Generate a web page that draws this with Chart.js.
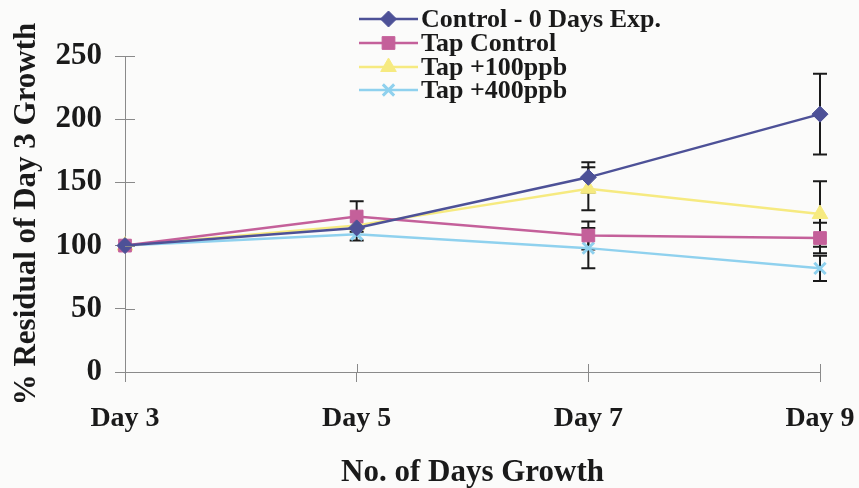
<!DOCTYPE html>
<html>
<head>
<meta charset="utf-8">
<script src="https://cdn.jsdelivr.net/npm/chart.js@4.4.1/dist/chart.umd.min.js"></script>
<style>
  html, body { margin: 0; padding: 0; background: #fbfbfa; }
  #wrap { width: 859px; height: 488px; position: relative; }
</style>
</head>
<body>
<div id="wrap"><canvas id="c" width="859" height="488"></canvas></div>
<script>
// Growth relative to day 3, by treatment
const days = ['Day 3', 'Day 5', 'Day 7', 'Day 9'];
const seriesNames = ['Control - 0 Days Exp.', 'Tap Control', 'Tap +100ppb', 'Tap +400ppb'];
const control0  = [100, 114, 154, 204];
const tapControl = [100, 123, 108, 106];
const tap100    = [100, 116, 145, 125];
const tap400    = [100, 109, 98, 82];
// standard error (+/-) per point
const errControl0 = [0, 0, 12, 32];
const errTapControl = [0, 12, 11, 12];
const errTap100 = [0, 0, 17, 26];
const errTap400 = [0, 5, 16, 10];
const yTicks = [0, 50, 100, 150, 200, 250];

const serif = "'Liberation Serif', 'Times New Roman', serif";
const colors = ['#4d5197', '#c4609a', '#f6ea80', '#8fd1ee'];
const pointStyles = ['rectRot', 'rect', 'triangle', 'crossRot'];
const pointRadii = [8, 9, 9, 8];
const values = [control0, tapControl, tap100, tap400];
const errors = [errControl0, errTapControl, errTap100, errTap400];

const datasets = values.map((v, i) => ({
  label: seriesNames[i],
  data: v,
  errors: errors[i],
  borderColor: colors[i],
  backgroundColor: colors[i],
  pointBackgroundColor: colors[i],
  pointBorderColor: colors[i],
  pointStyle: pointStyles[i],
  pointRadius: pointRadii[i],
  pointBorderWidth: i === 3 ? 3 : 1,
  borderWidth: 2.5,
  tension: 0
}));

// black error bars with caps, drawn through the scales
const errorBars = {
  id: 'errorBars',
  beforeDatasetsDraw(chart) {
    const { ctx, scales: { x, y } } = chart;
    ctx.save();
    ctx.strokeStyle = '#1a1a1a';
    ctx.lineWidth = 2;
    chart.data.datasets.forEach(ds => {
      ds.data.forEach((v, j) => {
        const e = ds.errors[j];
        if (!e) return;
        const px = x.getPixelForValue(j);
        const top = y.getPixelForValue(v + e);
        const bot = y.getPixelForValue(v - e);
        ctx.beginPath();
        ctx.moveTo(px, top); ctx.lineTo(px, bot);
        ctx.moveTo(px - 7, top); ctx.lineTo(px + 7, top);
        ctx.moveTo(px - 7, bot); ctx.lineTo(px + 7, bot);
        ctx.stroke();
      });
    });
    ctx.restore();
  }
};

// inner halves of the tick marks so they cross the axes
const crossTicks = {
  id: 'crossTicks',
  afterDraw(chart) {
    const { ctx, scales: { x, y } } = chart;
    ctx.save();
    ctx.strokeStyle = '#8a8a8a';
    ctx.lineWidth = 1;
    ctx.beginPath();
    y.ticks.forEach(t => {
      const py = Math.round(y.getPixelForValue(t.value)) + 0.5;
      ctx.moveTo(x.left, py); ctx.lineTo(x.left + 10, py);
    });
    days.forEach((d, j) => {
      const px = Math.round(x.getPixelForValue(j)) + 0.5;
      ctx.moveTo(px, y.bottom); ctx.lineTo(px, y.bottom - 8);
    });
    ctx.stroke();
    ctx.restore();
  }
};

// legend: line sample with marker, label to the right
const lineLegend = {
  id: 'lineLegend',
  afterDraw(chart) {
    const { ctx } = chart;
    const x0 = 359, x1 = 418, tx = 421;
    const rowsY = [19, 43, 67, 90];
    ctx.save();
    chart.data.datasets.forEach((ds, i) => {
      const cy = rowsY[i];
      ctx.strokeStyle = ds.borderColor;
      ctx.lineWidth = 2.5;
      ctx.beginPath();
      ctx.moveTo(x0, cy); ctx.lineTo(x1, cy);
      ctx.stroke();
      ctx.fillStyle = ds.backgroundColor;
      ctx.strokeStyle = ds.borderColor;
      ctx.lineWidth = ds.pointBorderWidth;
      Chart.helpers.drawPoint(ctx, {
        pointStyle: ds.pointStyle,
        radius: ds.pointRadius,
        borderWidth: ds.pointBorderWidth,
        rotation: 0
      }, (x0 + x1) / 2, cy);
      ctx.fillStyle = '#1a1a1a';
      ctx.font = "bold 26px " + serif;
      ctx.textBaseline = 'middle';
      ctx.textAlign = 'left';
      ctx.fillText(ds.label, tx, cy + 1);
    });
    ctx.restore();
  }
};

new Chart(document.getElementById('c'), {
  type: 'line',
  data: { labels: days, datasets },
  plugins: [errorBars, crossTicks, lineLegend],
  options: {
    responsive: false,
    animation: false,
    layout: { padding: { left: 0, right: 39, top: 56, bottom: 0 } },
    plugins: { legend: { display: false }, tooltip: { enabled: false } },
    scales: {
      x: {
        type: 'category',
        offset: false,
        afterFit(s) { s.height = 116; s.paddingLeft = 0; s.paddingRight = 0; },
        border: { display: true, color: '#8a8a8a', width: 1 },
        grid: { drawOnChartArea: false, tickLength: 10, color: '#8a8a8a' },
        ticks: { color: '#1a1a1a', padding: 20, maxRotation: 0,
                 font: { family: serif, size: 28, weight: 'bold' } },
        title: { display: true, text: 'No. of Days Growth', color: '#1a1a1a',
                 padding: { top: 0, bottom: -4 },
                 font: { family: serif, size: 31, weight: 'bold' } }
      },
      y: {
        min: 0, max: 250,
        afterFit(s) { s.width = 125; s.paddingTop = 0; s.paddingBottom = 0; },
        afterBuildTicks(s) { s.ticks = yTicks.map(v => ({ value: v })); },
        border: { display: true, color: '#8a8a8a', width: 1 },
        grid: { drawOnChartArea: false, tickLength: 10, color: '#8a8a8a' },
        ticks: { color: '#1a1a1a', padding: 13,
                 font: { family: serif, size: 31, weight: 'bold' } },
        title: { display: true, text: '% Residual of Day 3 Growth', color: '#1a1a1a',
                 padding: { top: 8, bottom: 0 },
                 font: { family: serif, size: 31, weight: 'bold' } }
      }
    }
  }
});
</script>
</body>
</html>
